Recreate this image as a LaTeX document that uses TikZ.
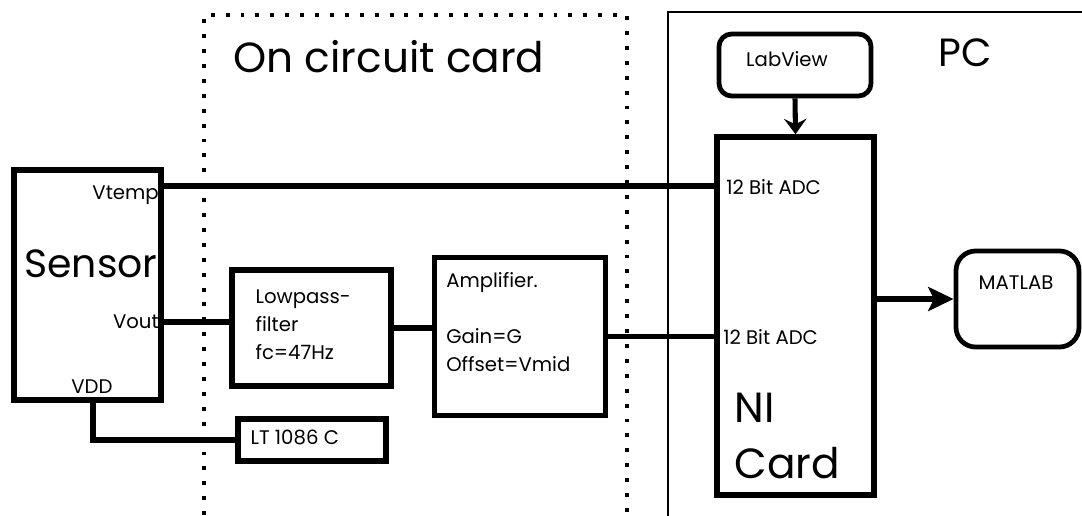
\documentclass[tikz,border=0pt]{standalone}
\usepackage{fontspec}
\setmainfont{Poppins}
\usetikzlibrary{arrows.meta,positioning}

\begin{document}
\begin{tikzpicture}[
    x=0.025cm, y=-0.025cm,
    font=\fontsize{14}{20}\selectfont,
    block/.style={rectangle, draw=black, line width=3.9pt, inner sep=0pt},
    thinblock/.style={block, line width=3pt},
    soft/.style={block, line width=3.4pt, rounded corners=9pt},
    wire/.style={draw=black, line width=3.9pt},
    flow/.style={-{Stealth[length=18pt,width=17pt,inset=4pt]}, line width=3.6pt},
    pin/.style={inner sep=0pt, align=left},
    big/.style={inner sep=0pt, align=left, font=\fontsize{30}{40}\selectfont}
]

\useasboundingbox (0,0) rectangle (1082,515);

% =========================================================
% Frames
% =========================================================
\draw[line width=2.8pt, dash pattern=on 2.8pt off 7.8pt]
    (204,530) -- (204,15) -- (627,15) -- (627,530);
\draw[line width=1pt] (668,530) -- (668,12) -- (1095,12);

\node[big, anchor=base west] (cardtitle) at (233,72) {On circuit card};
\node[big, anchor=base west, font=\fontsize{28}{32}\selectfont] (pctitle) at (938,66) {PC};

% =========================================================
% Blocks
% =========================================================
\node[block, minimum width=3.675cm, minimum height=5.75cm] (sensor) at (87.5,285) {};
\node[big, anchor=base west, font=\fontsize{28}{32}\selectfont] (sensorname) at (24,277) {Sensor};
\node[pin, anchor=base east] (vtemp) at (159,199) {Vtemp};
\node[pin, anchor=base east] (vout) at (159,328) {Vout};
\node[pin, anchor=base] (vdd) at (92,393) {VDD};

\node[block, minimum width=3.975cm, minimum height=2.9cm] (lowpass) at (311.5,328) {};
\node[pin, below right=0.55cm and 0.65cm of lowpass.north west] (lowpasstext)
    {Lowpass-\\filter\\fc=47Hz};

\node[thinblock, minimum width=4.275cm, minimum height=3.95cm] (amp) at (520,336.5) {};
\node[pin, below right=0.42cm and 0.34cm of amp.north west] (amptext)
    {Amplifier.\\[20pt]Gain=G\\Offset=Vmid};

\node[block, minimum width=3.7cm, minimum height=1.05cm] (lt) at (312,440) {};
\node[pin, below right=0.33cm and 0.375cm of lt.north west] (lttext) {LT 1086 C};

\node[soft, minimum width=3.8cm, minimum height=1.55cm] (labview) at (795,65) {};
\node[pin, anchor=center] (labviewtext) at (787,59) {LabView};

\node[block, minimum width=3.925cm, minimum height=8.95cm] (ni) at (795.5,316) {};
\node[pin, anchor=west] (adctop) at (726,187) {12 Bit ADC};
\node[pin, anchor=west] (adcbot) at (723,337) {12 Bit ADC};
\node[big, below right=6.45cm and 0.5cm of ni.north west] (nitext) {NI\\Card};

\node[soft, rounded corners=14pt, minimum width=3.075cm, minimum height=2.4cm] (matlab) at (1017.5,299) {};
\node[pin, anchor=center] (matlabtext) at (1016,283) {MATLAB};

% =========================================================
% Connections
% =========================================================
\coordinate (tempPin) at (sensor.east |- 0,186);
\coordinate (outPin) at (sensor.east |- 0,322);
\coordinate (vddPin) at (sensor.south -| 93,0);

\draw[wire] (tempPin) -- (tempPin -| ni.west);
\draw[wire] (outPin) -- (outPin -| lowpass.west);
\draw[wire] (lowpass.east) -- (lowpass.east -| amp.west);
\draw[wire] (amp.east) -- (amp.east -| ni.west);
\draw[wire] (vddPin) |- (lt.west);

\draw[flow, -{Stealth[length=11pt,width=16pt,inset=4pt]}] (labview.south) -- (ni.north);
\draw[flow] (ni.east |- matlab.west) -- (matlab.west);

\end{tikzpicture}
\end{document}
